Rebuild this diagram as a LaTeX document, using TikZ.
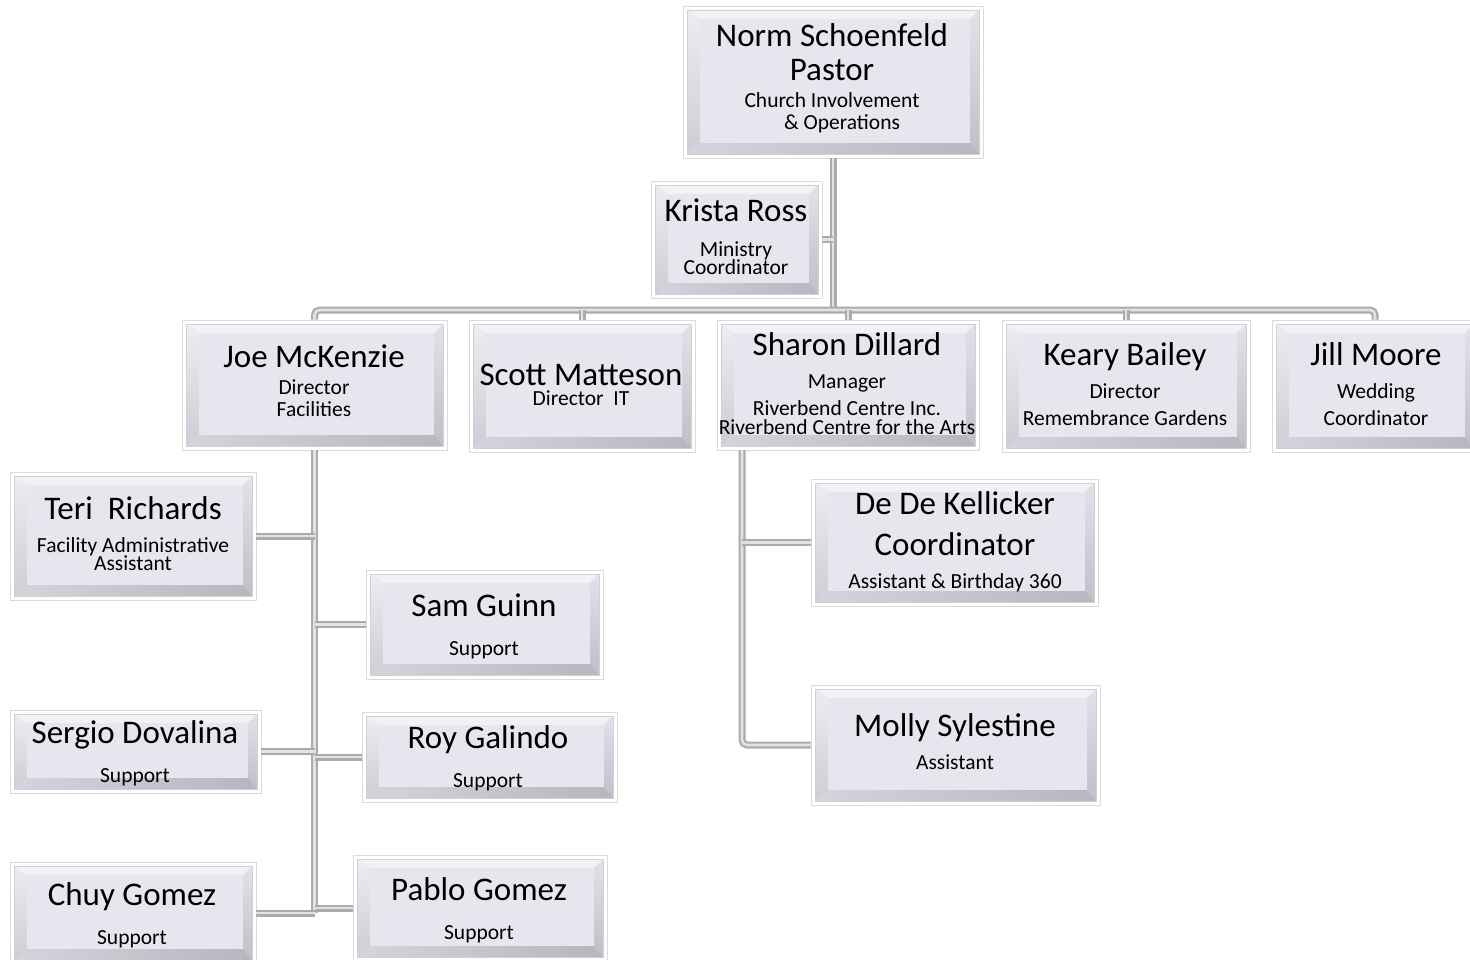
\documentclass[tikz,border=0pt]{standalone}
\usepackage{fontspec}
\setmainfont{Carlito}
\newcounter{lc}
\newcommand\tx[4]{\stepcounter{lc}\node[anchor=base,inner sep=0,font=\fontsize{#3}{#3}\selectfont] (t\arabic{lc}) at (#1,#2) {#4};}
\newcommand\nm[3]{\tx{#1}{#2+1}{33}{#3}}
\newcommand\sub[3]{\tx{#1}{#2+1}{21.5}{#3}}
\definecolor{bface}{HTML}{E6E6EF}
\definecolor{btop}{HTML}{F2F2F6}
\definecolor{bleftA}{HTML}{ECECF2}
\definecolor{bleftB}{HTML}{CDCDD5}
\definecolor{brightA}{HTML}{E2E2EA}
\definecolor{brightB}{HTML}{BFBFC7}
\definecolor{bbotA}{HTML}{D4D4DC}
\definecolor{bbotB}{HTML}{B6B6BE}
\definecolor{bedge}{HTML}{D0D0D6}
\definecolor{cout}{HTML}{ABABAB}
\definecolor{cin}{HTML}{E2E2E2}
\tikzset{
  bx/.style={draw=black!14, fill=white, line width=0.8pt, inner sep=0, path picture={
    \path (path picture bounding box.north west) ++(4,4) coordinate (A)
          (path picture bounding box.south east) ++(-4,-4) coordinate (C);
    \path (A) ++(13,9) coordinate (a) (C) ++(-9,-11) coordinate (c);
    \fill[bface] (A) rectangle (C);
    \fill[btop] (A) -- (A -| C) -- (a -| c) -- (a) -- cycle;
    \shade[top color=bleftA, bottom color=bleftB] (A) -- (a) -- (a |- c) -- (A |- C) -- cycle;
    \shade[top color=brightA, bottom color=brightB] (A -| C) -- (C) -- (c) -- (a -| c) -- cycle;
    \shade[left color=bbotA, right color=bbotB] (A |- C) -- (C) -- (c) -- (a |- c) -- cycle;
    \fill[bface] (a) rectangle (c);
    \draw[bedge, line width=0.8pt] (A) rectangle (C);
  }},
  conn/.style={draw=cout, line width=2.2pt, double=cin, double distance=2.6pt}
}
\begin{document}
\begin{tikzpicture}[x=1pt,y=-1pt]
\useasboundingbox[fill=white] (0,0) rectangle (1470,960);
% boxes
\node[bx, minimum width=300, minimum height=152] (norm) at (833,82) {};
\node[bx, minimum width=171, minimum height=117] (krista) at (736.5,239.5) {};
\node[bx, minimum width=265, minimum height=130] (joe) at (314.5,385) {};
\node[bx, minimum width=226, minimum height=132] (scott) at (582,386) {};
\node[bx, minimum width=262, minimum height=130] (sharon) at (848,385) {};
\node[bx, minimum width=248, minimum height=132] (keary) at (1126,386) {};
\node[bx, minimum width=206, minimum height=132] (jill) at (1375,386) {};
\node[bx, minimum width=246, minimum height=128] (teri) at (133,536) {};
\node[bx, minimum width=237, minimum height=109] (sam) at (484.5,624.5) {};
\node[bx, minimum width=251, minimum height=83] (sergio) at (135.5,751.5) {};
\node[bx, minimum width=255, minimum height=90] (roy) at (489.5,757) {};
\node[bx, minimum width=246, minimum height=102] (chuy) at (133,913) {};
\node[bx, minimum width=254, minimum height=106] (pablo) at (480,908) {};
\node[bx, minimum width=287, minimum height=127] (dede) at (954.5,542.5) {};
\node[bx, minimum width=289, minimum height=120] (molly) at (955.5,745) {};
% connectors
\coordinate (bus) at (832,310);
\coordinate (sv) at (742,450);
\draw[conn] (norm.south) -- (norm.south |- bus);
\draw[conn] (krista.east) -- (krista.east -| norm.south);
\draw[conn, rounded corners=5] (joe.north) |- (jill.north |- bus) -- (jill.north);
\draw[conn] (scott.north) -- (scott.north |- bus);
\draw[conn] (sharon.north) -- (sharon.north |- bus);
\draw[conn] (keary.north) -- (keary.north |- bus);
\draw[conn] (joe.south) -- (joe.south |- chuy.east);
\draw[conn] (teri.east) -- (teri.east -| joe.south);
\draw[conn] (sam.west) -- (sam.west -| joe.south);
\draw[conn] (sergio.east) -- (sergio.east -| joe.south);
\draw[conn] (roy.west) -- (roy.west -| joe.south);
\draw[conn] (chuy.east) -- (chuy.east -| joe.south);
\draw[conn] (pablo.west) -- (pablo.west -| joe.south);
\draw[conn, rounded corners=5] (sv) |- (molly.west);
\draw[conn] (dede.west) -- (dede.west -| sv);
% texts
\nm{832}{46}{Norm Schoenfeld}
\nm{832}{80}{Pastor}
\sub{832}{107}{Church Involvement}
\sub{842}{129}{\& Operations}
\nm{736}{221}{Krista Ross}
\sub{736}{255}{Ministry}
\sub{736}{273}{Coordinator}
\nm{314}{366}{Joe McKenzie}
\sub{314}{393}{Director}
\sub{314}{415}{Facilities}
\nm{581}{384}{Scott Matteson}
\sub{581}{404}{Director\ \ IT}
\nm{847}{354}{Sharon Dillard}
\sub{847}{387}{Manager}
\sub{847}{414}{Riverbend Centre Inc.}
\sub{847}{433}{Riverbend Centre for the Arts}
\nm{1125}{364}{Keary Bailey}
\sub{1125}{397}{Director}
\sub{1125}{424}{Remembrance Gardens}
\nm{1376}{364}{Jill Moore}
\sub{1376}{397}{Wedding}
\sub{1376}{424}{Coordinator}
\nm{133}{518}{Teri\ \ Richards}
\sub{133}{551}{Facility Administrative}
\sub{133}{569}{Assistant}
\nm{484}{615}{Sam Guinn}
\sub{484}{654}{Support}
\nm{135}{742}{Sergio Dovalina}
\sub{135}{781}{Support}
\nm{488}{747}{Roy Galindo}
\sub{488}{786}{Support}
\nm{132}{904}{Chuy Gomez}
\sub{132}{943}{Support}
\nm{479}{899}{Pablo Gomez}
\sub{479}{938}{Support}
\nm{955}{513}{De De Kellicker}
\nm{955}{554}{Coordinator}
\sub{955}{587}{Assistant \& Birthday 360}
\nm{955}{735}{Molly Sylestine}
\sub{955}{768}{Assistant}
\end{tikzpicture}
\end{document}
